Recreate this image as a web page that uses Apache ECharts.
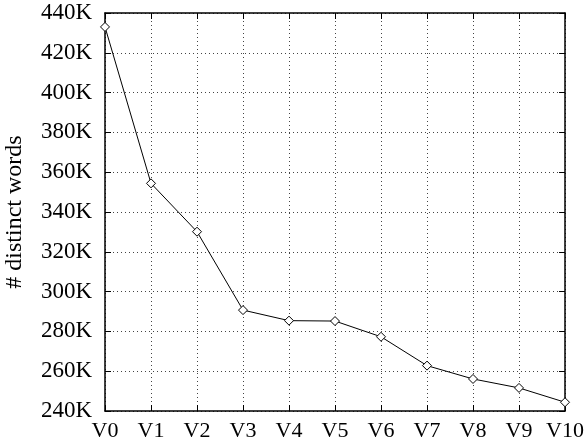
<!DOCTYPE html>
<html>
<head>
<meta charset="utf-8">
<script src="https://cdn.jsdelivr.net/npm/echarts@6/dist/echarts.min.js"></script>
<style>html,body{margin:0;padding:0;background:#fff}#c{width:586px;height:447px}</style>
</head>
<body>
<div id="c"></div>
<script>
const categories = ['V0','V1','V2','V3','V4','V5','V6','V7','V8','V9','V10'];
const distinctWords = [433000, 354400, 330100, 290700, 285400, 285200, 277300, 262800, 256100, 251600, 244400];
const yTickValues = [240000, 260000, 280000, 300000, 320000, 340000, 360000, 380000, 400000, 420000, 440000];
const yTitle = '# distinct words';

const font = 'Liberation Serif';
const chart = echarts.init(document.getElementById('c'), null, {renderer: 'canvas'});
const axisLine = {show: true, lineStyle: {color: '#000', width: 1.5}};
const grid = {show: true, lineStyle: {color: '#444', type: [1, 3], width: 1}};
chart.setOption({
  animation: false,
  backgroundColor: '#fff',
  grid: {left: 105, right: 21, top: 13, bottom: 36, containLabel: false, outerBoundsMode: 'none'},
  xAxis: [{
    type: 'category', data: categories, boundaryGap: false, position: 'bottom',
    axisLine: axisLine,
    axisTick: {show: true, inside: true, length: 6, lineStyle: {color: '#000'}},
    axisLabel: {color: '#000', fontFamily: font, fontSize: 22, margin: 9, interval: 0},
    splitLine: grid
  }, {
    type: 'category', data: categories, boundaryGap: false, position: 'top',
    axisLine: axisLine,
    axisTick: {show: true, inside: true, length: 6, lineStyle: {color: '#000'}},
    axisLabel: {show: false}, splitLine: {show: false}
  }],
  yAxis: [{
    type: 'value', min: yTickValues[0], max: yTickValues[yTickValues.length - 1], interval: 20000,
    position: 'left',
    name: yTitle, nameLocation: 'middle', nameGap: 78, nameRotate: 90,
    nameTextStyle: {color: '#000', fontFamily: font, fontSize: 24},
    axisLine: axisLine,
    axisTick: {show: true, inside: true, length: 6, lineStyle: {color: '#000'}},
    axisLabel: {color: '#000', fontFamily: font, fontSize: 23, margin: 13,
      formatter: v => (v / 1000) + 'K'},
    splitLine: grid
  }, {
    type: 'value', min: yTickValues[0], max: yTickValues[yTickValues.length - 1], interval: 20000,
    position: 'right',
    axisLine: axisLine,
    axisTick: {show: true, inside: true, length: 6, lineStyle: {color: '#000'}},
    axisLabel: {show: false}, splitLine: {show: false}
  }],
  series: [{
    type: 'line', data: distinctWords, xAxisIndex: 0, yAxisIndex: 0,
    symbol: 'diamond', symbolSize: 9, showSymbol: true,
    lineStyle: {color: '#000', width: 1},
    itemStyle: {color: '#fff', borderColor: '#000', borderWidth: 1}
  }]
});
</script>
</body>
</html>
